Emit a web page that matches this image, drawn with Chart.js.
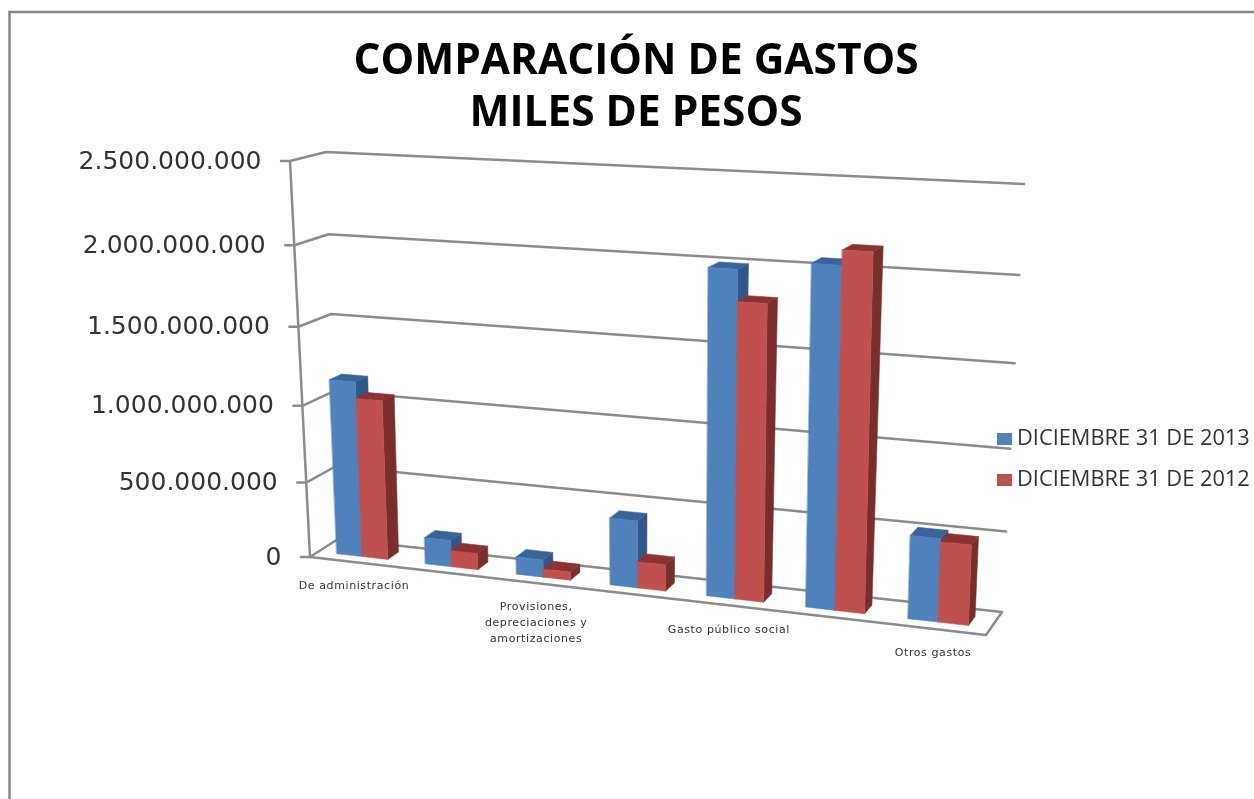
<!DOCTYPE html>
<html lang="es">
<head>
<meta charset="utf-8">
<title>Comparación de gastos</title>
<script src="https://cdn.jsdelivr.net/npm/chart.js@4/dist/chart.umd.min.js"></script>
<style>
html,body{margin:0;padding:0;background:#fff;overflow:hidden}
#wrap{position:absolute;left:0;top:0;width:1254px;height:799px}
canvas{display:block;filter:blur(0.45px)}
</style>
</head>
<body>
<div id="wrap"><canvas id="c" width="1254" height="799"></canvas></div>
<script>
const categories = [
  'De administración',
  'De operación',
  ['Provisiones,', 'depreciaciones y', 'amortizaciones'],
  'Transferencias',
  'Gasto público social',
  'Operaciones interinstitucionales',
  'Otros gastos'
];
const series2013 = [1150000000, 175000000, 113000000, 432000000, 2000000000, 2060000000, 515000000];
const series2012 = [1045000000, 108000000, 54000000, 170000000, 1815000000, 2145000000, 495000000];
const seriesNames = ['DICIEMBRE 31 DE 2013', 'DICIEMBRE 31 DE 2012'];
const titleLines = ['COMPARACIÓN DE GASTOS', 'MILES DE PESOS'];
const axisMax = 2500000000;
const axisStep = 500000000;

// Projection of the plot box (u across, v up, w into the page) on to the picture.
const BOX = {
  flb:[310,557], flt:[290,161], frb:[986,635], frt:[1000,198],
  blb:[338,539], blt:[326,152], brb:[1002,612], brt:[1024,184]
};
const U_WARP = 0.105, V_WARP = 0.08, BAR_W0 = 0.3, BAR_W1 = 0.7;
const LINE = '#8c8c8c';
const FACES = [
  {front:'#4F81BD', top:'#38649A', side:'#31578A'},
  {front:'#C0504D', top:'#8C3331', side:'#7A2E2C'}
];
const lerp = (a,b,t)=>[a[0]+(b[0]-a[0])*t, a[1]+(b[1]-a[1])*t];
function project(u,v,w){
  const uu = u/(1+U_WARP*(1-u)), vv = v/(1+V_WARP*(1-v));
  const f = lerp(lerp(BOX.flb,BOX.frb,uu), lerp(BOX.flt,BOX.frt,uu), vv);
  const b = lerp(lerp(BOX.blb,BOX.brb,uu), lerp(BOX.blt,BOX.brt,uu), vv);
  return lerp(f,b,w);
}
function poly(ctx,pts,fill){
  ctx.beginPath();
  pts.forEach((p,i)=> i?ctx.lineTo(p[0],p[1]):ctx.moveTo(p[0],p[1]));
  ctx.closePath();
  ctx.fillStyle=fill; ctx.fill();
  ctx.strokeStyle=fill; ctx.lineWidth=0.5; ctx.stroke();
}
function path(ctx,pts){
  ctx.beginPath();
  pts.forEach((p,i)=> i?ctx.lineTo(p[0],p[1]):ctx.moveTo(p[0],p[1]));
  ctx.stroke();
}
const fmt = n => String(n).replace(/\B(?=(\d{3})+(?!\d))/g,'.');

const perspective = {
  id:'perspective',
  beforeDraw(chart){
    const ctx=chart.ctx;
    ctx.save();
    ctx.strokeStyle='#868686'; ctx.lineWidth=2.5;
    path(ctx,[[9.5,799],[9.5,12],[1254,12]]);
    ctx.restore();
  },
  beforeDatasetsDraw(chart){
    const ctx=chart.ctx, yS=chart.scales.y, a=chart.chartArea;
    const vOf = px => (a.bottom-px)/(a.bottom-a.top);
    ctx.save();
    ctx.lineCap='round'; ctx.lineJoin='round';
    ctx.strokeStyle=LINE; ctx.lineWidth=2.5;
    // walls
    yS.ticks.forEach(t=>{
      const v=vOf(yS.getPixelForValue(t.value));
      const p0=project(0,v,0);
      path(ctx,[[p0[0]-9,p0[1]],p0,project(0,v,1),project(1,v,1)]);
    });
    path(ctx,[project(0,1,0),project(0,0,0),project(1,0,0),project(1,0,1)]);
    // bars
    const n=chart.data.labels.length;
    for(let j=0;j<n;j++){
      chart.data.datasets.forEach((ds,i)=>{
        const el=chart.getDatasetMeta(i).data[j], f=FACES[i];
        const u0=(el.x-el.width/2-a.left)/a.width, u1=(el.x+el.width/2-a.left)/a.width;
        const v=vOf(el.y);
        poly(ctx,[project(u1,0,BAR_W0),project(u1,0,BAR_W1),project(u1,v,BAR_W1),project(u1,v,BAR_W0)],f.side);
        poly(ctx,[project(u0,v,BAR_W0),project(u1,v,BAR_W0),project(u1,v,BAR_W1),project(u0,v,BAR_W1)],f.top);
        poly(ctx,[project(u0,0,BAR_W0),project(u1,0,BAR_W0),project(u1,v,BAR_W0),project(u0,v,BAR_W0)],f.front);
      });
    }
    // value labels
    ctx.fillStyle='#333'; ctx.font='25px "DejaVu Sans"';
    ctx.textAlign='right'; ctx.textBaseline='middle';
    yS.ticks.forEach(t=>{
      const v=vOf(yS.getPixelForValue(t.value));
      const p=project(0,v,0);
      ctx.fillText(fmt(t.value),p[0]-28.5,p[1]+1);
    });
    // category labels (every second one, as the axis skips them)
    const xS=chart.scales.x;
    ctx.fillStyle='#333'; ctx.font='11px "DejaVu Sans"'; ctx.textAlign='center';
    ctx.letterSpacing='0.6px';
    chart.data.labels.forEach((lab,j)=>{
      if(j%2) return;
      const u=(xS.getPixelForValue(j)-a.left)/a.width;
      const p=project(u,0,0);
      [].concat(lab).forEach((s,k)=>ctx.fillText(s,p[0],p[1]+24.5+k*16));
    });
    ctx.letterSpacing='0px';
    // legend
    ctx.font='21.8px "Open Sans"'; ctx.textAlign='left';
    chart.data.datasets.forEach((ds,i)=>{
      const y=439+i*41;
      ctx.fillStyle=FACES[i].front; ctx.fillRect(997,y-6,15,12);
      ctx.fillStyle='#333'; ctx.fillText(ds.label,1017,y);
    });
    ctx.restore();
    return false;
  }
};

new Chart(document.getElementById('c'),{
  type:'bar',
  data:{
    labels:categories,
    datasets:[
      {label:seriesNames[0],data:series2013,backgroundColor:FACES[0].front,categoryPercentage:0.58,barPercentage:1},
      {label:seriesNames[1],data:series2012,backgroundColor:FACES[1].front,categoryPercentage:0.58,barPercentage:1}
    ]
  },
  options:{
    responsive:false,animation:false,
    layout:{padding:{left:18,right:0,top:0,bottom:0}},
    plugins:{
      legend:{display:false},
      tooltip:{enabled:false},
      title:{display:true,text:titleLines,color:'#000',align:'center',
        font:{family:'"Open Sans"',size:42.4,weight:'bold',lineHeight:1.226},
        padding:{top:36,bottom:10}}
    },
    scales:{
      x:{display:false},
      y:{display:false,min:0,max:axisMax,ticks:{stepSize:axisStep}}
    }
  },
  plugins:[perspective]
});
</script>
</body>
</html>
